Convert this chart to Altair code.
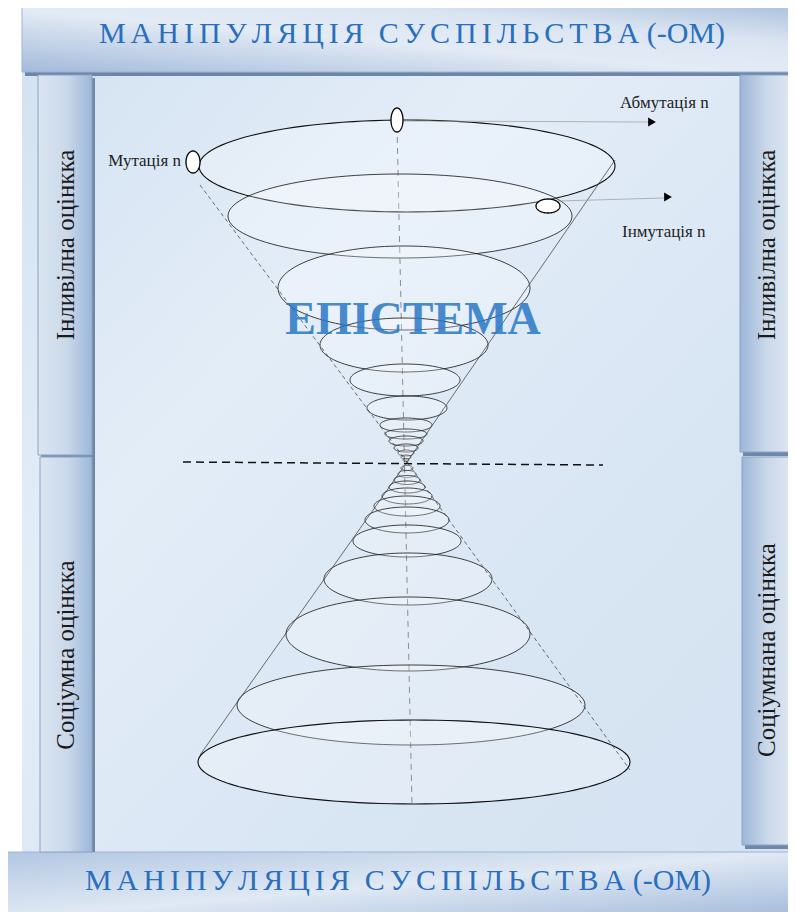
import altair as alt
import numpy as np
import pandas as pd

W, H = 780, 904
XS = alt.Scale(domain=[8, 788], nice=False, zero=False)
YS = alt.Scale(domain=[8, 912], nice=False, zero=False, reverse=True)
SERIF = "Liberation Serif, Times New Roman, serif"

# ---- texts ----
SP = "\u2006"
NB = "\u00a0"
banner_text = SP.join("МАНІПУЛЯЦІЯ") + NB * 2 + SP.join("СУСПІЛЬСТВА") + NB + "(-ОМ)"
side_labels = ["Інливілна оцінкка", "Соціумна оцінкка", "Інливілна оцінкка", "Соціумнана оцінкка"]
point_labels = ["Абмутація n", "Мутація n", "Інмутація n"]
center_label = "ЕПІСТЕМА"

# ---- cone ellipses: centre x, centre y, radius x, radius y ----
top_cx = [407, 400, 404, 404, 405, 407, 406, 406, 406, 406, 406, 406, 406]
top_cy = [166, 216, 288, 345, 380, 408, 425, 434, 441, 448, 453, 457, 460]
top_rx = [208, 172, 126, 84, 55, 40, 26, 21, 17, 12, 8, 5, 3]
top_ry = [46, 42, 42, 27, 16, 12, 7, 5, 5, 4, 3, 2, 1.5]
bot_cx = [407, 407, 407, 407, 407, 407, 407, 407, 408, 408, 411, 414]
bot_cy = [468, 474, 480, 487, 496, 506, 520, 541, 579, 634, 705, 762]
bot_rx = [6, 9, 13, 18, 25, 33, 42, 54, 84, 122, 174, 216]
bot_ry = [2.5, 3.5, 4.5, 6, 8, 10, 13, 16, 26, 37, 40, 42]

# small white markers on the top ellipse
mk_cx = [397, 193, 548]
mk_cy = [120, 162, 206]
mk_rx = [6, 7, 12]
mk_ry = [12, 11, 7]


def ellipse_frame(cx, cy, rx, ry, prefix):
    rows = []
    t = np.linspace(0, np.pi, 61)
    for i, (a, b, r1, r2) in enumerate(zip(cx, cy, rx, ry)):
        for tt in t:
            rows.append({
                "id": f"{prefix}{i}",
                "x": a - r1 * np.cos(tt),
                "y": b - r2 * np.sin(tt),
                "y2": b + r2 * np.sin(tt),
                "sw": 1.15 if (r1 >= 200) else (0.8 if r1 >= 10 else 0.55),
            })
    return pd.DataFrame(rows)


ell = pd.concat([ellipse_frame(top_cx, top_cy, top_rx, top_ry, "t"),
                 ellipse_frame(bot_cx, bot_cy, bot_rx, bot_ry, "b")])
mk = ellipse_frame(mk_cx, mk_cy, mk_rx, mk_ry, "m")


def X(f="x"):
    return alt.X(f"{f}:Q", scale=XS, axis=None)


def Y(f="y"):
    return alt.Y(f"{f}:Q", scale=YS, axis=None)


def grad(stops, x1=0, y1=0, x2=1, y2=0):
    return alt.LinearGradient(
        gradient="linear",
        stops=[alt.GradientStop(color=c, offset=o) for o, c in stops],
        x1=x1, y1=y1, x2=x2, y2=y2)


def rect(df, **kw):
    return alt.Chart(df).mark_rect(**kw).encode(
        x=X("x"), x2="x2", y=Y("y"), y2="y2")


# background texture area
bg = rect(pd.DataFrame({"x": [22], "x2": [800], "y": [0], "y2": [852]}),
          fill=grad([(0, "#d2e1f0"), (0.35, "#e3edf8"), (0.7, "#d8e5f3"), (1, "#d4e2f1")], 0, 0, 1, 1))

# banners
top_sh = rect(pd.DataFrame({"x": [25], "x2": [800], "y": [68], "y2": [76]}), fill="#6d86a8")
top_b = rect(pd.DataFrame({"x": [22], "x2": [800], "y": [3], "y2": [72]}),
             fill=grad([(0, "#a3badb"), (0.45, "#e3ebf5"), (0.7, "#dbe5f2"), (1, "#a8bedc")], 0, 1, 1, 0),
             stroke="#9db3d3", strokeWidth=1)
bot_b = rect(pd.DataFrame({"x": [7], "x2": [790], "y": [852], "y2": [918]}),
             fill=grad([(0, "#b3c7e2"), (0.5, "#e0e9f4"), (1, "#a3badb")], 0, 0, 1, 1),
             stroke="#9db3d3", strokeWidth=1)

# side panels
pan_sh = rect(pd.DataFrame({"x": [41, 41, 743, 745], "x2": [95, 95, 795, 795],
                            "y": [78, 458, 78, 458], "y2": [458, 852, 456, 849]}), fill="#6f88aa")
pan_l = rect(pd.DataFrame({"x": [38, 40], "x2": [92, 92], "y": [75, 457], "y2": [455, 852]}),
             fill=grad([(0, "#dbe5f1"), (0.55, "#c9d8ea"), (1, "#9db6d8")]),
             stroke="#8aa3c6", strokeWidth=1)
pan_r = rect(pd.DataFrame({"x": [740, 742], "x2": [792, 792], "y": [75, 457], "y2": [452, 845]}),
             fill=grad([(0, "#9db6d8"), (0.5, "#c9d8ea"), (1, "#dfe7f2")]),
             stroke="#8aa3c6", strokeWidth=1)

# ellipses
ell_layer = alt.Chart(ell).mark_area(fill="white", fillOpacity=0.25, stroke="#111").encode(
    x=X("x"), y=Y("y"), y2="y2", detail="id:N",
    strokeWidth=alt.StrokeWidth("sw:Q", scale=None))
mk_layer = alt.Chart(mk).mark_area(fill="white", fillOpacity=1, stroke="black", strokeWidth=1.3).encode(
    x=X("x"), y=Y("y"), y2="y2", detail="id:N")


# lines
def rules(x, y, x2, y2, **kw):
    df = pd.DataFrame({"x": x, "y": y, "x2": x2, "y2": y2})
    return alt.Chart(df).mark_rule(**kw).encode(x=X("x"), y=Y("y"), x2="x2", y2="y2")


cone_solid = rules([615, 407], [160, 462], [407, 200], [462, 755], color="#333", strokeWidth=0.7)
cone_dash = rules([200, 407], [185, 462], [407, 630], [462, 770], color="#333", strokeWidth=0.7,
                  strokeDash=[4, 3])
axis_line = rules([397], [126], [412], [805], color="#666", strokeWidth=1, strokeDash=[6, 5])
horiz = rules([183], [462], [603], [465], color="#111", strokeWidth=1.5, strokeDash=[8, 5])
arrows = rules([402, 558], [121, 201], [648, 664], [122, 198], color="#999", strokeWidth=0.7)
heads = alt.Chart(pd.DataFrame({"x": [652, 668], "y": [122, 197]})).mark_point(
    shape="triangle-right", filled=True, color="black", size=80, opacity=1).encode(x=X(), y=Y())


# texts
def texts(xs, ys, labels, **kw):
    df = pd.DataFrame({"x": xs, "y": ys, "t": labels})
    return alt.Chart(df).mark_text(**kw).encode(x=X(), y=Y(), text="t:N")


banner_t = texts([412, 398], [34, 881], [banner_text, banner_text], font=SERIF,
                 fontSize=30, color="#2a6fbd", align="center", baseline="middle")
side_t = texts([66, 66, 767, 767], [245, 655, 245, 650], side_labels, font=SERIF,
               fontSize=25, color="#1a1a1a", angle=270, align="center", baseline="middle")
lab_t = alt.layer(
    texts([620], [103], [point_labels[0]], font=SERIF, fontSize=17, color="#222",
          align="left", baseline="middle"),
    texts([181], [161], [point_labels[1]], font=SERIF, fontSize=17, color="#222",
          align="right", baseline="middle"),
    texts([622], [232], [point_labels[2]], font=SERIF, fontSize=17, color="#222",
          align="left", baseline="middle"),
)
center_t = texts([413], [320], [center_label], font=SERIF, fontSize=46,
                 fontWeight="bold", color="#2a78c6", opacity=0.85, align="center", baseline="middle")

chart = alt.layer(
    bg, top_sh, top_b, bot_b, pan_sh, pan_l, pan_r,
    axis_line, ell_layer, cone_solid, cone_dash, center_t, horiz, arrows, heads, mk_layer,
    banner_t, side_t, lab_t,
).properties(width=W, height=H, padding=0, autosize="none", background="white"
).configure_view(stroke=None, clip=True)

chart.save("out.html", embed_options={"renderer": "svg", "actions": False})
